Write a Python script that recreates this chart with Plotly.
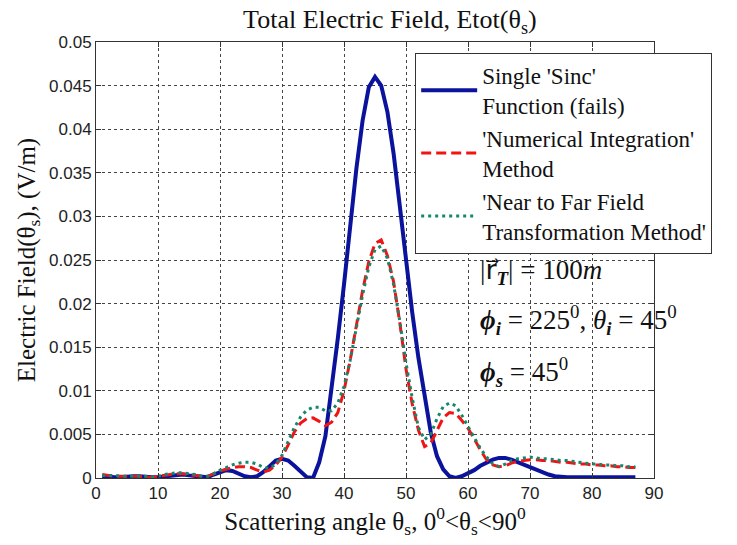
import plotly.graph_objects as go

theta = list(range(1, 88))

e_sinc = [
    0.0002, 0.0001, 0.0001, 0.0001, 0.0002, 0.0002, 0.0002, 0.0001, 0.0001, 0.0001,
    0.0002, 0.0003, 0.0004, 0.0004, 0.0003, 0.0002, 0.0001, 0.0001, 0.0004, 0.0007,
    0.0009, 0.0008, 0.0005, 0.0002, 0.0001, 0.0002, 0.0007, 0.0014, 0.0020, 0.0022,
    0.0020, 0.0014, 0.0007, 0.0001, 0.0000, 0.0018, 0.0048, 0.0102, 0.0160, 0.0222,
    0.0290, 0.0355, 0.0410, 0.0448, 0.0460, 0.0450, 0.0420, 0.0372, 0.0312, 0.0250,
    0.0190, 0.0138, 0.0092, 0.0052, 0.0025, 0.0010, 0.0002, 0.0000, 0.0002, 0.0005,
    0.0009, 0.0014, 0.0018, 0.0021, 0.0023, 0.0023, 0.0021, 0.0018, 0.0015, 0.0012,
    0.0009, 0.0006, 0.0004, 0.0002, 0.0001, 0.0001, 0.0001, 0.0001, 0.0001, 0.0001,
    0.0001, 0.0001, 0.0001, 0.0001, 0.0001, 0.0001, 0.0001,
]

e_numint = [
    0.0004, 0.0003, 0.0002, 0.0002, 0.0002, 0.0002, 0.0002, 0.0001, 0.0001, 0.0002,
    0.0003, 0.0004, 0.0005, 0.0005, 0.0004, 0.0003, 0.0002, 0.0002, 0.0005, 0.0008,
    0.0010, 0.0012, 0.0013, 0.0013, 0.0012, 0.0009, 0.0007, 0.0009, 0.0015, 0.0024,
    0.0038, 0.0053, 0.0063, 0.0068, 0.0069, 0.0065, 0.0060, 0.0064, 0.0075, 0.0100,
    0.0135, 0.0175, 0.0215, 0.0248, 0.0269, 0.0273, 0.0255, 0.0225, 0.0178, 0.0125,
    0.0085, 0.0055, 0.0036, 0.0040, 0.0055, 0.0069, 0.0075, 0.0074, 0.0066, 0.0057,
    0.0045, 0.0032, 0.0021, 0.0015, 0.0013, 0.0014, 0.0017, 0.0019, 0.0020, 0.0021,
    0.0021, 0.0020, 0.0020, 0.0019, 0.0018, 0.0018, 0.0017, 0.0016, 0.0016, 0.0015,
    0.0015, 0.0014, 0.0014, 0.0013, 0.0013, 0.0012, 0.0012,
]

e_nf2ff = [
    0.0003, 0.0003, 0.0003, 0.0002, 0.0002, 0.0002, 0.0002, 0.0002, 0.0001, 0.0002,
    0.0004, 0.0005, 0.0006, 0.0006, 0.0005, 0.0004, 0.0002, 0.0002, 0.0005, 0.0009,
    0.0012, 0.0015, 0.0017, 0.0018, 0.0018, 0.0016, 0.0012, 0.0011, 0.0016, 0.0026,
    0.0042, 0.0058, 0.0070, 0.0078, 0.0081, 0.0081, 0.0077, 0.0077, 0.0086, 0.0105,
    0.0135, 0.0172, 0.0210, 0.0242, 0.0262, 0.0266, 0.0252, 0.0222, 0.0180, 0.0132,
    0.0092, 0.0058, 0.0044, 0.0050, 0.0068, 0.0082, 0.0086, 0.0083, 0.0072, 0.0059,
    0.0046, 0.0034, 0.0024, 0.0016, 0.0013, 0.0016, 0.0020, 0.0022, 0.0023, 0.0024,
    0.0023, 0.0022, 0.0022, 0.0021, 0.0020, 0.0020, 0.0019, 0.0018, 0.0017, 0.0016,
    0.0016, 0.0015, 0.0015, 0.0014, 0.0014, 0.0013, 0.0013,
]

names = [
    "Single 'Sinc'<br>Function (fails)",
    "'Numerical Integration'<br>Method",
    "'Near to Far Field<br>Transformation Method'",
]

SERIF = "Liberation Serif"
SANS = "Liberation Sans"

fig = go.Figure()
fig.add_trace(go.Scatter(x=theta, y=e_sinc, mode="lines", name=names[0],
                         line=dict(color="#0b139c", width=4)))
fig.add_trace(go.Scatter(x=theta, y=e_numint, mode="lines", name=names[1],
                         line=dict(color="#f01414", width=3, dash="10px,5px")))
fig.add_trace(go.Scatter(x=theta, y=e_nf2ff, mode="lines", name=names[2],
                         line=dict(color="#14876e", width=3, dash="3px,4px")))

axis_common = dict(
    showline=True, linecolor="#333", linewidth=1, mirror="allticks",
    ticks="inside", ticklen=5, tickcolor="#333",
    showgrid=True, gridcolor="#444", griddash="dot", gridwidth=1,
    zeroline=False, tickfont=dict(family=SANS, size=17, color="#222"),
)

fig.update_xaxes(range=[0, 90], dtick=10, tick0=0,
                 title=dict(text="Scattering angle θ<sub>s</sub>, 0<sup>0</sup>&lt;θ<sub>s</sub>&lt;90<sup>0</sup>",
                            font=dict(family=SERIF, size=25, color="#111"), standoff=8),
                 **axis_common)
fig.update_yaxes(range=[0, 0.05], dtick=0.005, tick0=0,
                 title=dict(text="Electric Field(θ<sub>s</sub>), (V/m)",
                            font=dict(family=SERIF, size=25, color="#111"), standoff=6),
                 **axis_common)

annotations = [
    dict(text="|<span style=\"font-family:DejaVu Sans\">r\u20d7</span><sub><b><i>T</i></b></sub>| = 100<i>m</i>", y=0.4725),
    dict(text="<b><i>ϕ</i></b><sub><b><i>i</i></b></sub> = 225<sup>0</sup>, <i>θ</i><sub><b><i>i</i></b></sub> = 45<sup>0</sup>", y=0.3624),
    dict(text="<b><i>ϕ</i></b><sub><b><i>s</i></b></sub> = 45<sup>0</sup>", y=0.2431),
]
for a in annotations:
    fig.add_annotation(text=a["text"], x=0.6846, y=a["y"], xref="paper", yref="paper",
                       xanchor="left", yanchor="middle", showarrow=False,
                       font=dict(family=SERIF, size=27, color="#111"))

fig.update_layout(
    width=737, height=545,
    margin=dict(l=96, r=83, t=42, b=67),
    paper_bgcolor="white", plot_bgcolor="white",
    title=dict(text="Total Electric Field, Etot(θ<sub>s</sub>)", x=0.529, xanchor="center",
               xref="container", y=0.965, yref="container", yanchor="middle",
               font=dict(family=SERIF, size=26, color="#111")),
    legend=dict(x=0.572, y=0.975, xanchor="left", yanchor="top",
                bgcolor="white", bordercolor="#333", borderwidth=1,
                font=dict(family=SERIF, size=23, color="#111"),
                tracegroupgap=0, itemwidth=56),
    showlegend=True,
)

fig.write_html("out.html")
